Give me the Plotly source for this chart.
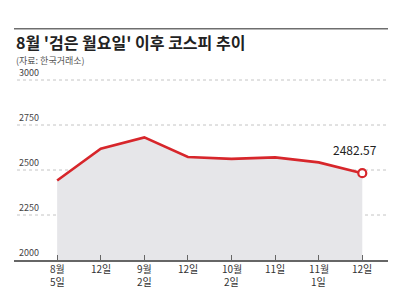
import plotly.graph_objects as go

# Data
month_labels = ["8월", "12일", "9월", "12일", "10월", "11일", "11월", "12일"]
day_labels = ["5일", "", "2일", "", "2일", "", "1일", ""]
kospi = [2441.55, 2618.30, 2681.00, 2572.09, 2561.69, 2570.00, 2542.36, 2482.57]
y_ticks = [2000, 2250, 2500, 2750, 3000]

x = list(range(len(kospi)))
RED = "#d7262b"
FONT = "Noto Sans CJK KR"

fig = go.Figure()
fig.add_trace(go.Scatter(
    x=x, y=kospi, mode="lines", fill="tozeroy", fillcolor="#e6e6e9",
    line=dict(color=RED, width=2.6), hoverinfo="skip", showlegend=False))
fig.add_trace(go.Scatter(
    x=[x[-1]], y=[kospi[-1]], mode="markers",
    marker=dict(size=8, color="white", line=dict(color=RED, width=2.2)),
    showlegend=False, hoverinfo="skip", cliponaxis=False))

L, R, T, B = 14, 22, 71, 30
W, H = 410, 290
pw, ph = W - L - R, H - T - B
y_top = 2000 + ph / 0.18  # 180 px per 1000 points

def px(xp):
    return (xp - L) / pw

def py(yp):
    return (H - B - yp) / ph

shapes = [dict(type="line", xref="paper", yref="paper", x0=px(14), x1=px(388),
               y0=py(28.7), y1=py(28.7), layer="above",
               line=dict(color="#6e6e6e", width=1.6))]
annotations = [
    dict(text="<b>8월 '검은 월요일' 이후 코스피 추이</b>", xref="paper", yref="paper",
         x=px(14), y=py(42), xanchor="left", yanchor="middle", showarrow=False,
         font=dict(size=16, color="#222", family=FONT)),
    dict(text="(자료: 한국거래소)", xref="paper", yref="paper",
         x=px(14), y=py(60), xanchor="left", yanchor="middle", showarrow=False,
         font=dict(size=9, color="#555", family=FONT)),
    dict(text=f"{kospi[-1]:.2f}", x=x[-1], y=kospi[-1], xref="x", yref="y",
         xanchor="center", yanchor="bottom", yshift=13, xshift=-7, showarrow=False,
         font=dict(size=12, color="#222", family=FONT)),
]
for v in y_ticks:
    if v != y_ticks[0]:
        shapes.append(dict(type="line", xref="paper", yref="y", x0=px(17), x1=1, y0=v, y1=v,
                           layer="below", line=dict(color="#c4c4c4", width=1, dash="dot")))
    annotations.append(dict(text=str(v), xref="paper", yref="y", x=px(17), y=v,
                            xanchor="left", yanchor="bottom", showarrow=False, yshift=-1,
                            font=dict(size=9, color="#444", family=FONT)))
for xi, m, d in zip(x, month_labels, day_labels):
    annotations.append(dict(text=m, xref="x", yref="paper", x=xi, y=py(268.5),
                            xanchor="center", yanchor="middle", showarrow=False, borderpad=0,
                            font=dict(size=10, color="#333", family=FONT)))
    if d:
        annotations.append(dict(text=d, xref="x", yref="paper", x=xi, y=py(281.6),
                                xanchor="center", yanchor="middle", showarrow=False,
                                borderpad=0, font=dict(size=10, color="#333", family=FONT)))

fig.update_layout(
    width=W, height=H, margin=dict(l=L, r=R, t=T, b=B, autoexpand=False),
    paper_bgcolor="white", plot_bgcolor="rgba(0,0,0,0)",
    font=dict(family=FONT, color="#333"),
    xaxis=dict(range=[-0.99, 7.59], tickmode="array", tickvals=x, showticklabels=False,
               showgrid=False, zeroline=False, showline=True, linecolor="#666", linewidth=1.5,
               ticks="inside", ticklen=5, tickcolor="#666", tickwidth=1, automargin=False,
               fixedrange=True),
    yaxis=dict(range=[2000, y_top], showticklabels=False, showgrid=False,
               zeroline=False, showline=False, automargin=False, fixedrange=True),
    shapes=shapes,
    annotations=annotations,
)

fig.write_html("out.html")
